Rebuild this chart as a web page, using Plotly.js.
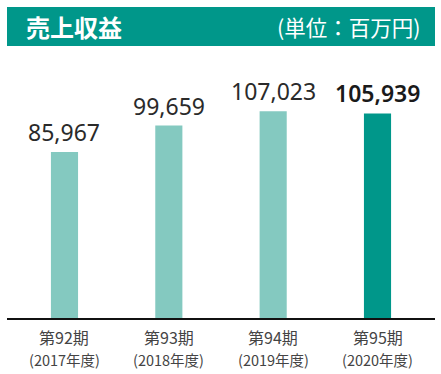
<!DOCTYPE html>
<html><head><meta charset="utf-8">
<script src="https://cdn.plot.ly/plotly-3.0.1.min.js"></script>
<style>html,body{margin:0;padding:0;background:#fff;}#chart{width:441px;height:374px;}</style>
</head><body><div id="chart"></div>
<script>
const periods = ["第92期", "第93期", "第94期", "第95期"];
const years = ["(2017年度)", "(2018年度)", "(2019年度)", "(2020年度)"];
const revenue = [85967, 99659, 107023, 105939];
const title = "売上収益";
const unit = "(単位：百万円)";

const light = "#84C9C0", dark = "#00978A";
const idx = periods.map((_, i) => i);
const colors = idx.map(i => i === idx.length - 1 ? dark : light);

const annotations = [];
idx.forEach(i => {
  const last = i === idx.length - 1;
  annotations.push({
    x: i, y: revenue[i], xref: "x", yref: "y", yanchor: "bottom", yshift: 2,
    text: revenue[i].toLocaleString("en-US"),
    showarrow: false,
    font: {family: "Noto Sans, sans-serif", size: 23, weight: last ? 600 : 400, color: last ? "#1a1a1a" : "#2a2a2a"}
  });
  annotations.push({
    x: i, y: 0, xref: "x", yref: "paper", yanchor: "top", yshift: -5,
    text: periods[i], showarrow: false,
    font: {family: "Noto Sans CJK JP, sans-serif", size: 16, color: "#444"}
  });
  annotations.push({
    x: i, y: 0, xref: "x", yref: "paper", yanchor: "top", yshift: -29,
    text: years[i], showarrow: false,
    font: {family: "Noto Sans CJK JP, sans-serif", size: 14.5, color: "#444"}
  });
});
annotations.push({x: 0, xref: "paper", xanchor: "left", xshift: 17, y: 0.9373, yref: "paper", yanchor: "middle",
  text: "<b>" + title + "</b>", showarrow: false, font: {family: "Noto Sans CJK JP", size: 24, color: "#fff"}});
annotations.push({x: 1, xref: "paper", xanchor: "right", xshift: -12, y: 0.9373, yref: "paper", yanchor: "middle",
  text: unit, showarrow: false, font: {family: "Noto Sans CJK JP", size: 21.5, color: "#fff"}});

const data = [{
  type: "bar", x: idx, y: revenue, width: 0.26,
  marker: {color: colors, line: {width: 0}},
  hoverinfo: "skip"
}];

const layout = {
  width: 441, height: 374,
  margin: {l: 7, r: 6, t: 7, b: 56, pad: 0},
  paper_bgcolor: "#fff", plot_bgcolor: "#fff",
  showlegend: false,
  xaxis: {range: [-0.551, 3.551], showticklabels: false, ticks: "", showgrid: false, zeroline: false,
          showline: true, linecolor: "#111", linewidth: 2, fixedrange: true},
  yaxis: {domain: [0, 0.8296], range: [0, 133600], visible: false, showgrid: false, zeroline: false, fixedrange: true},
  shapes: [{type: "rect", xref: "paper", yref: "paper", x0: 0, x1: 1, y0: 0.8746, y1: 1,
            fillcolor: dark, line: {width: 0}, layer: "below"}],
  annotations: annotations
};
Plotly.newPlot("chart", data, layout, {displayModeBar: false, staticPlot: true});
</script></body></html>
